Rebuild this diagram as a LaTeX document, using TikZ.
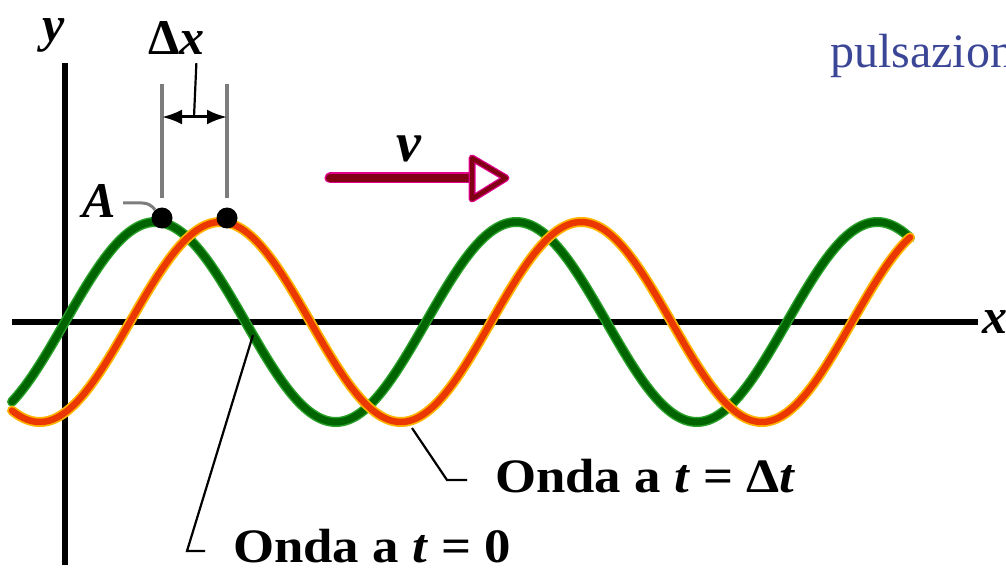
\documentclass[tikz,border=0pt]{standalone}
\usepackage{fontspec}
\setmainfont{Liberation Serif}
\usetikzlibrary{arrows.meta}
\definecolor{gdark}{RGB}{0,100,0}
\definecolor{gedge}{RGB}{40,160,40}
\definecolor{ored}{RGB}{235,55,0}
\definecolor{oedge}{RGB}{255,180,0}
\definecolor{vred}{RGB}{130,0,20}
\definecolor{vmag}{RGB}{225,0,140}
\definecolor{blu}{RGB}{60,70,150}
\definecolor{gry}{RGB}{125,125,125}
\tikzset{
  lbl/.style={anchor=base west,inner sep=0pt,font=\fontsize{50}{56}\selectfont\bfseries\itshape},
  onda/.style={anchor=base west,inner sep=0pt,font=\fontsize{48}{54}\selectfont\bfseries},
  axis/.style={line width=6pt,black},
  dot/.style={circle,fill=black,inner sep=0pt,minimum size=21pt},
  guide/.style={line width=3.5pt,gry},
  leader/.style={line width=2.2pt,black},
  dxarrow/.style={line width=3pt,black,-{Latex[length=20pt,width=15pt]}},
}
\begin{document}
\begin{tikzpicture}[x=1pt,y=-1pt]
\useasboundingbox (0,0) rectangle (1006,572);
% axes
\coordinate (yb) at (65,565);
\coordinate (yt) at (65,63);
\coordinate (xl) at (12,322);
\coordinate (xr) at (978,322);
\draw[axis] (yb) -- (yt);
\draw[axis] (xl) -- (xr);
\node[lbl] (ylab) at (42,42) {y};
\node[lbl] (xlab) at (982,333) {x};
% waves
\draw[line width=10pt,gedge,line cap=round] plot[domain=12:910,samples=300] (\x,{322-100*sin(0.99723*(\x-65))});
\draw[line width=7pt,gdark,line cap=round] plot[domain=12:910,samples=300] (\x,{322-100*sin(0.99723*(\x-65))});
\draw[line width=10pt,oedge,line cap=round] plot[domain=12:910,samples=300] (\x,{322-100*sin(0.99723*(\x-130))});
\draw[line width=6.5pt,ored,line cap=round] plot[domain=12:910,samples=300] (\x,{322-100*sin(0.99723*(\x-130))});
% dots and delta x
\node[dot] (d1) at (162,218) {};
\node[dot] (d2) at (227,218) {};
\coordinate (t1) at (162,84);
\coordinate (b1) at (162,198);
\coordinate (t2) at (227,84);
\coordinate (b2) at (227,198);
\draw[guide] (t1) -- (b1);
\draw[guide] (t2) -- (b2);
\coordinate (dxm) at (194,117);
\draw[dxarrow] (dxm) -- (t1 |- dxm);
\draw[dxarrow] (dxm) -- (t2 |- dxm);
\node[lbl,font=\fontsize{50}{56}\selectfont\bfseries] (dxl) at (148,55) {Δ\textit{x}};
\draw[leader] ([xshift=20pt,yshift=-8pt]dxl.south) -- (dxm);
% A
\node[lbl] (alab) at (82,217) {A};
\coordinate (aa) at (123,203);
\draw[line width=3pt,gry] (aa) -- (142,203) to[out=0,in=130] (d1);
% velocity arrow
\coordinate (va) at (330,178);
\coordinate (vh) at (472,178);
\coordinate (vtip) at (506,178);
\draw[line width=11pt,vmag,line cap=round] (va) -- (vh);
\draw[line width=8pt,vred,line cap=round] (va) -- (vh);
\draw[line width=7pt,vmag,fill=white,line join=round] (472,158) -- (vtip) -- (472,199) -- cycle;
\draw[line width=4.5pt,vred,line join=round] (472,158) -- (vtip) -- (472,199) -- cycle;
\node[lbl,font=\fontsize{56}{60}\selectfont\bfseries\itshape] (vlab) at (396,162) {v};
% wave labels
\node[onda] (o1) at (495,492) {\scalebox{1.1}[1]{Onda a \textit{t} = Δ\textit{t}}};
\node[onda] (o0) at (233,562) {\scalebox{1.1}[1]{Onda a \textit{t} = 0}};
\coordinate (p1) at (412,428);
\coordinate (c1) at (447,480);
\coordinate (e1) at (467,480);
\draw[leader] (p1) -- (c1) -- (e1);
\coordinate (p0) at (253,335);
\coordinate (c0) at (187,551);
\coordinate (e0) at (205,551);
\draw[leader] (p0) -- (c0) -- (e0);
% cut-off heading
\node[anchor=base west,inner sep=0pt,text=blu,font=\fontsize{48}{54}\selectfont] (puls) at (830,68) {pulsazione};
\end{tikzpicture}
\end{document}
